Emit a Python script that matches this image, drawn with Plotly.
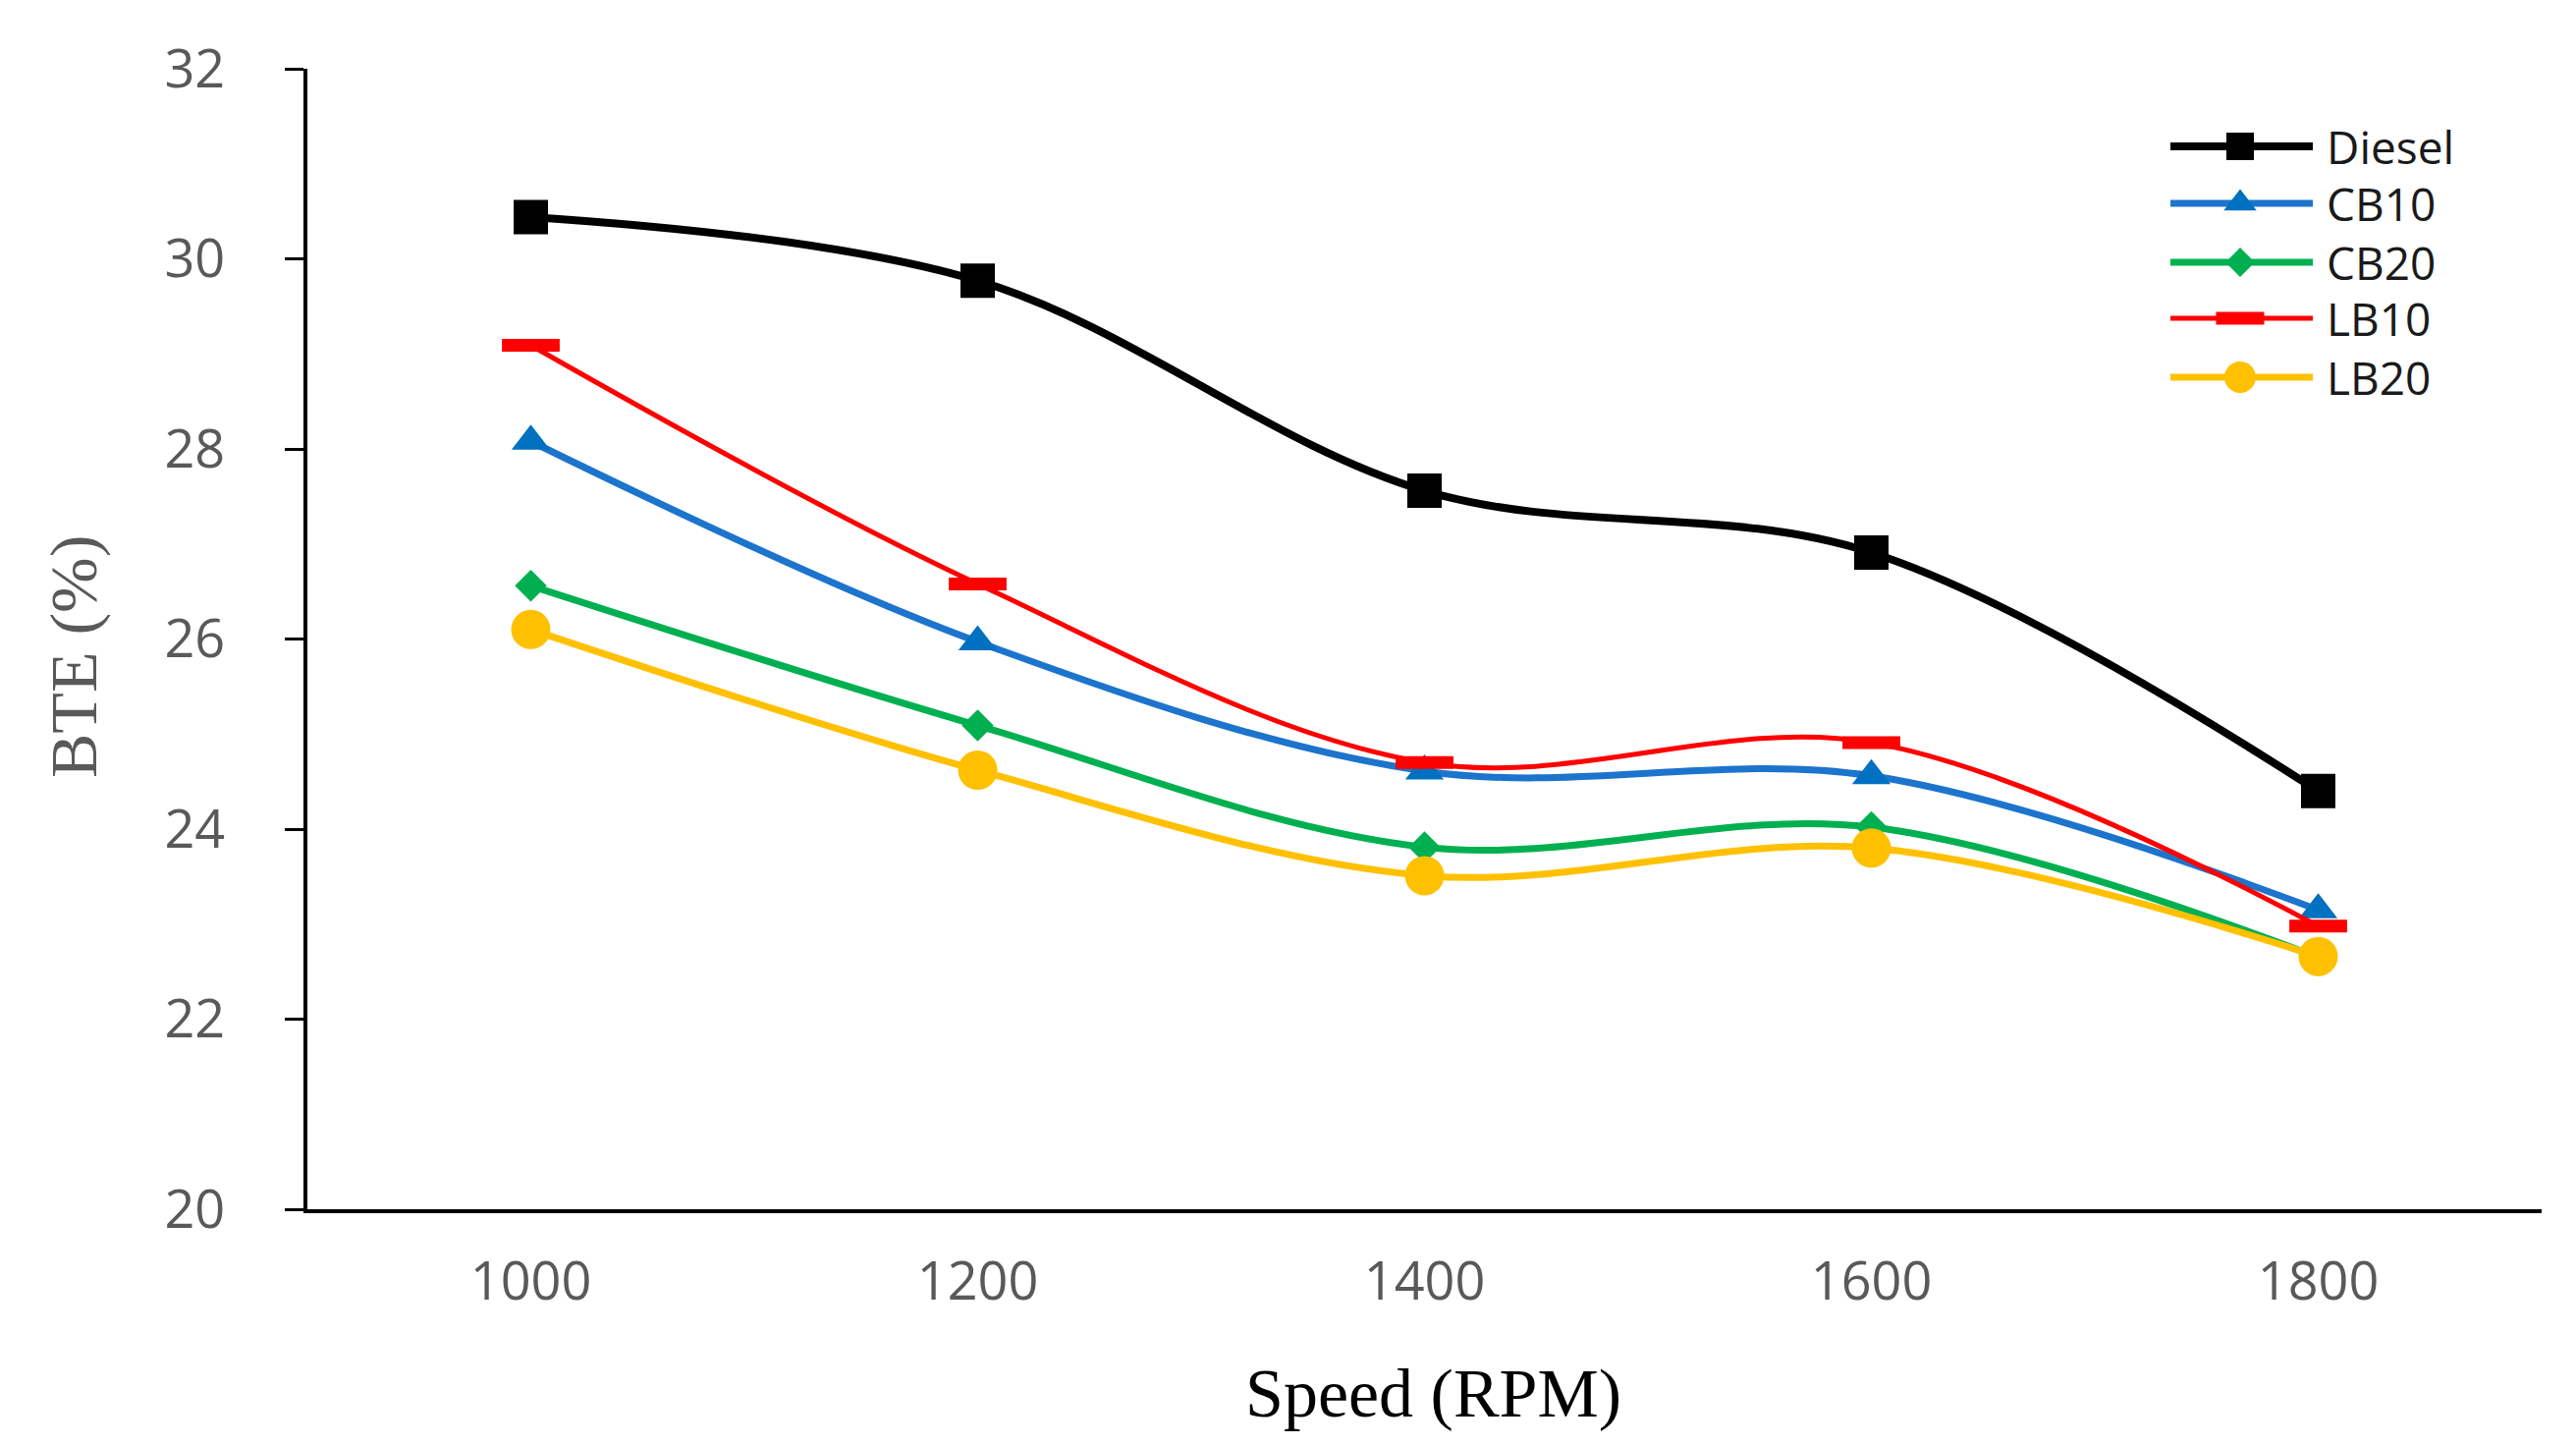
import plotly.graph_objects as go

speeds = ["1000", "1200", "1400", "1600", "1800"]
diesel = [30.44, 29.77, 27.56, 26.91, 24.40]
cb10 = [28.08, 25.97, 24.61, 24.56, 23.15]
cb20 = [26.56, 25.09, 23.81, 24.02, 22.65]
lb10 = [29.09, 26.58, 24.70, 24.91, 22.98]
lb20 = [26.10, 24.62, 23.51, 23.80, 22.66]

series_names = ["Diesel", "CB10", "CB20", "LB10", "LB20"]
series_values = [diesel, cb10, cb20, lb10, lb20]
y_ticks = [20, 22, 24, 26, 28, 30, 32]

styles = {
    "Diesel": dict(line=dict(color="#000000", width=8),
                   marker=dict(symbol="square", size=35, color="#000000"),
                   lmarker=dict(symbol="square", size=28, color="#000000")),
    "CB10": dict(line=dict(color="#1C74CC", width=7),
                 marker=dict(symbol="triangle-up", size=34, color="#0070C0"),
                 lmarker=dict(symbol="triangle-up", size=29, color="#0070C0")),
    "CB20": dict(line=dict(color="#00B050", width=7),
                 marker=dict(symbol="diamond", size=25, color="#00B050"),
                 lmarker=dict(symbol="diamond", size=23, color="#00B050")),
    "LB10": dict(line=dict(color="#FF0000", width=5),
                 marker=dict(symbol="line-ew", size=42, color="#FF0000",
                             line=dict(color="#FF0000", width=13)),
                 lmarker=dict(symbol="line-ew", size=35, color="#FF0000",
                              line=dict(color="#FF0000", width=13))),
    "LB20": dict(line=dict(color="#FFC000", width=7),
                 marker=dict(symbol="circle", size=40, color="#FFC000"),
                 lmarker=dict(symbol="circle", size=32, color="#FFC000")),
}

W, H = 2623, 1471
L, R, T, B = 305, 2580, 62, 1223


def px_to_paper(px, py):
    return (px - L) / (R - L), (B - py) / (B - T)


fig = go.Figure()
for name, vals in zip(series_names, series_values):
    st = styles[name]
    fig.add_trace(go.Scatter(
        x=speeds, y=vals, name=name, mode="lines+markers",
        line=dict(shape="spline", smoothing=1, **st["line"]),
        marker=st["marker"], showlegend=False,
    ))

# custom legend drawn on a pixel-mapped overlay axis
leg_x0, leg_x1, leg_xm, leg_text_x = 2202, 2347, 2273, 2360
leg_rows = [141, 199, 259, 316, 376]
annotations = []
for name, ry in zip(series_names, leg_rows):
    st = styles[name]
    fig.add_trace(go.Scatter(
        x=[leg_x0, leg_x1], y=[ry, ry], mode="lines", line=st["line"],
        xaxis="x2", yaxis="y2", showlegend=False, hoverinfo="skip"))
    fig.add_trace(go.Scatter(
        x=[leg_xm], y=[ry], mode="markers", marker=st["lmarker"],
        xaxis="x2", yaxis="y2", showlegend=False, hoverinfo="skip"))
    annotations.append(dict(
        x=leg_text_x, y=ry, xref="x2", yref="y2", text=name, showarrow=False,
        xanchor="left", yanchor="middle", height=54, borderpad=0,
        font=dict(family="Open Sans", size=46, color="#1a1a1a")))

# axis titles
sx, sy = px_to_paper(1451, 1410)
annotations.append(dict(
    x=sx, y=sy, xref="paper", yref="paper",
    text="Speed (RPM)", showarrow=False, xanchor="center", yanchor="middle",
    font=dict(family="Liberation Serif", size=70, color="#000000")))
bx, by = px_to_paper(67, 661)
annotations.append(dict(
    x=bx, y=by, xref="paper", yref="paper",
    text="BTE (%)", showarrow=False, xanchor="center", yanchor="middle",
    textangle=-90,
    font=dict(family="Liberation Serif", size=68, color="#595959")))

fig.update_layout(
    width=W, height=H,
    margin=dict(l=L, r=W - R, t=T, b=H - B, pad=0),
    paper_bgcolor="white", plot_bgcolor="white",
    annotations=annotations,
    xaxis=dict(
        type="category", range=[-0.5, 4.5], showgrid=False, zeroline=False,
        showline=True, linecolor="black", linewidth=4, ticks="",
        tickfont=dict(family="Open Sans", size=54, color="#595959"),
        ticklabelstandoff=23,
    ),
    yaxis=dict(
        range=[20, 32], tickvals=y_ticks, showgrid=False, zeroline=False,
        showline=True, linecolor="black", linewidth=4,
        ticks="outside", ticklen=19, tickwidth=3, tickcolor="black",
        tickfont=dict(family="Open Sans", size=54, color="#595959"),
        ticklabelstandoff=50,
    ),
    xaxis2=dict(overlaying="x", anchor="y2", range=[L, R], visible=False,
                fixedrange=True),
    yaxis2=dict(overlaying="y", anchor="x2", range=[B, T], visible=False,
                fixedrange=True),
)

fig.write_html("out.html")
